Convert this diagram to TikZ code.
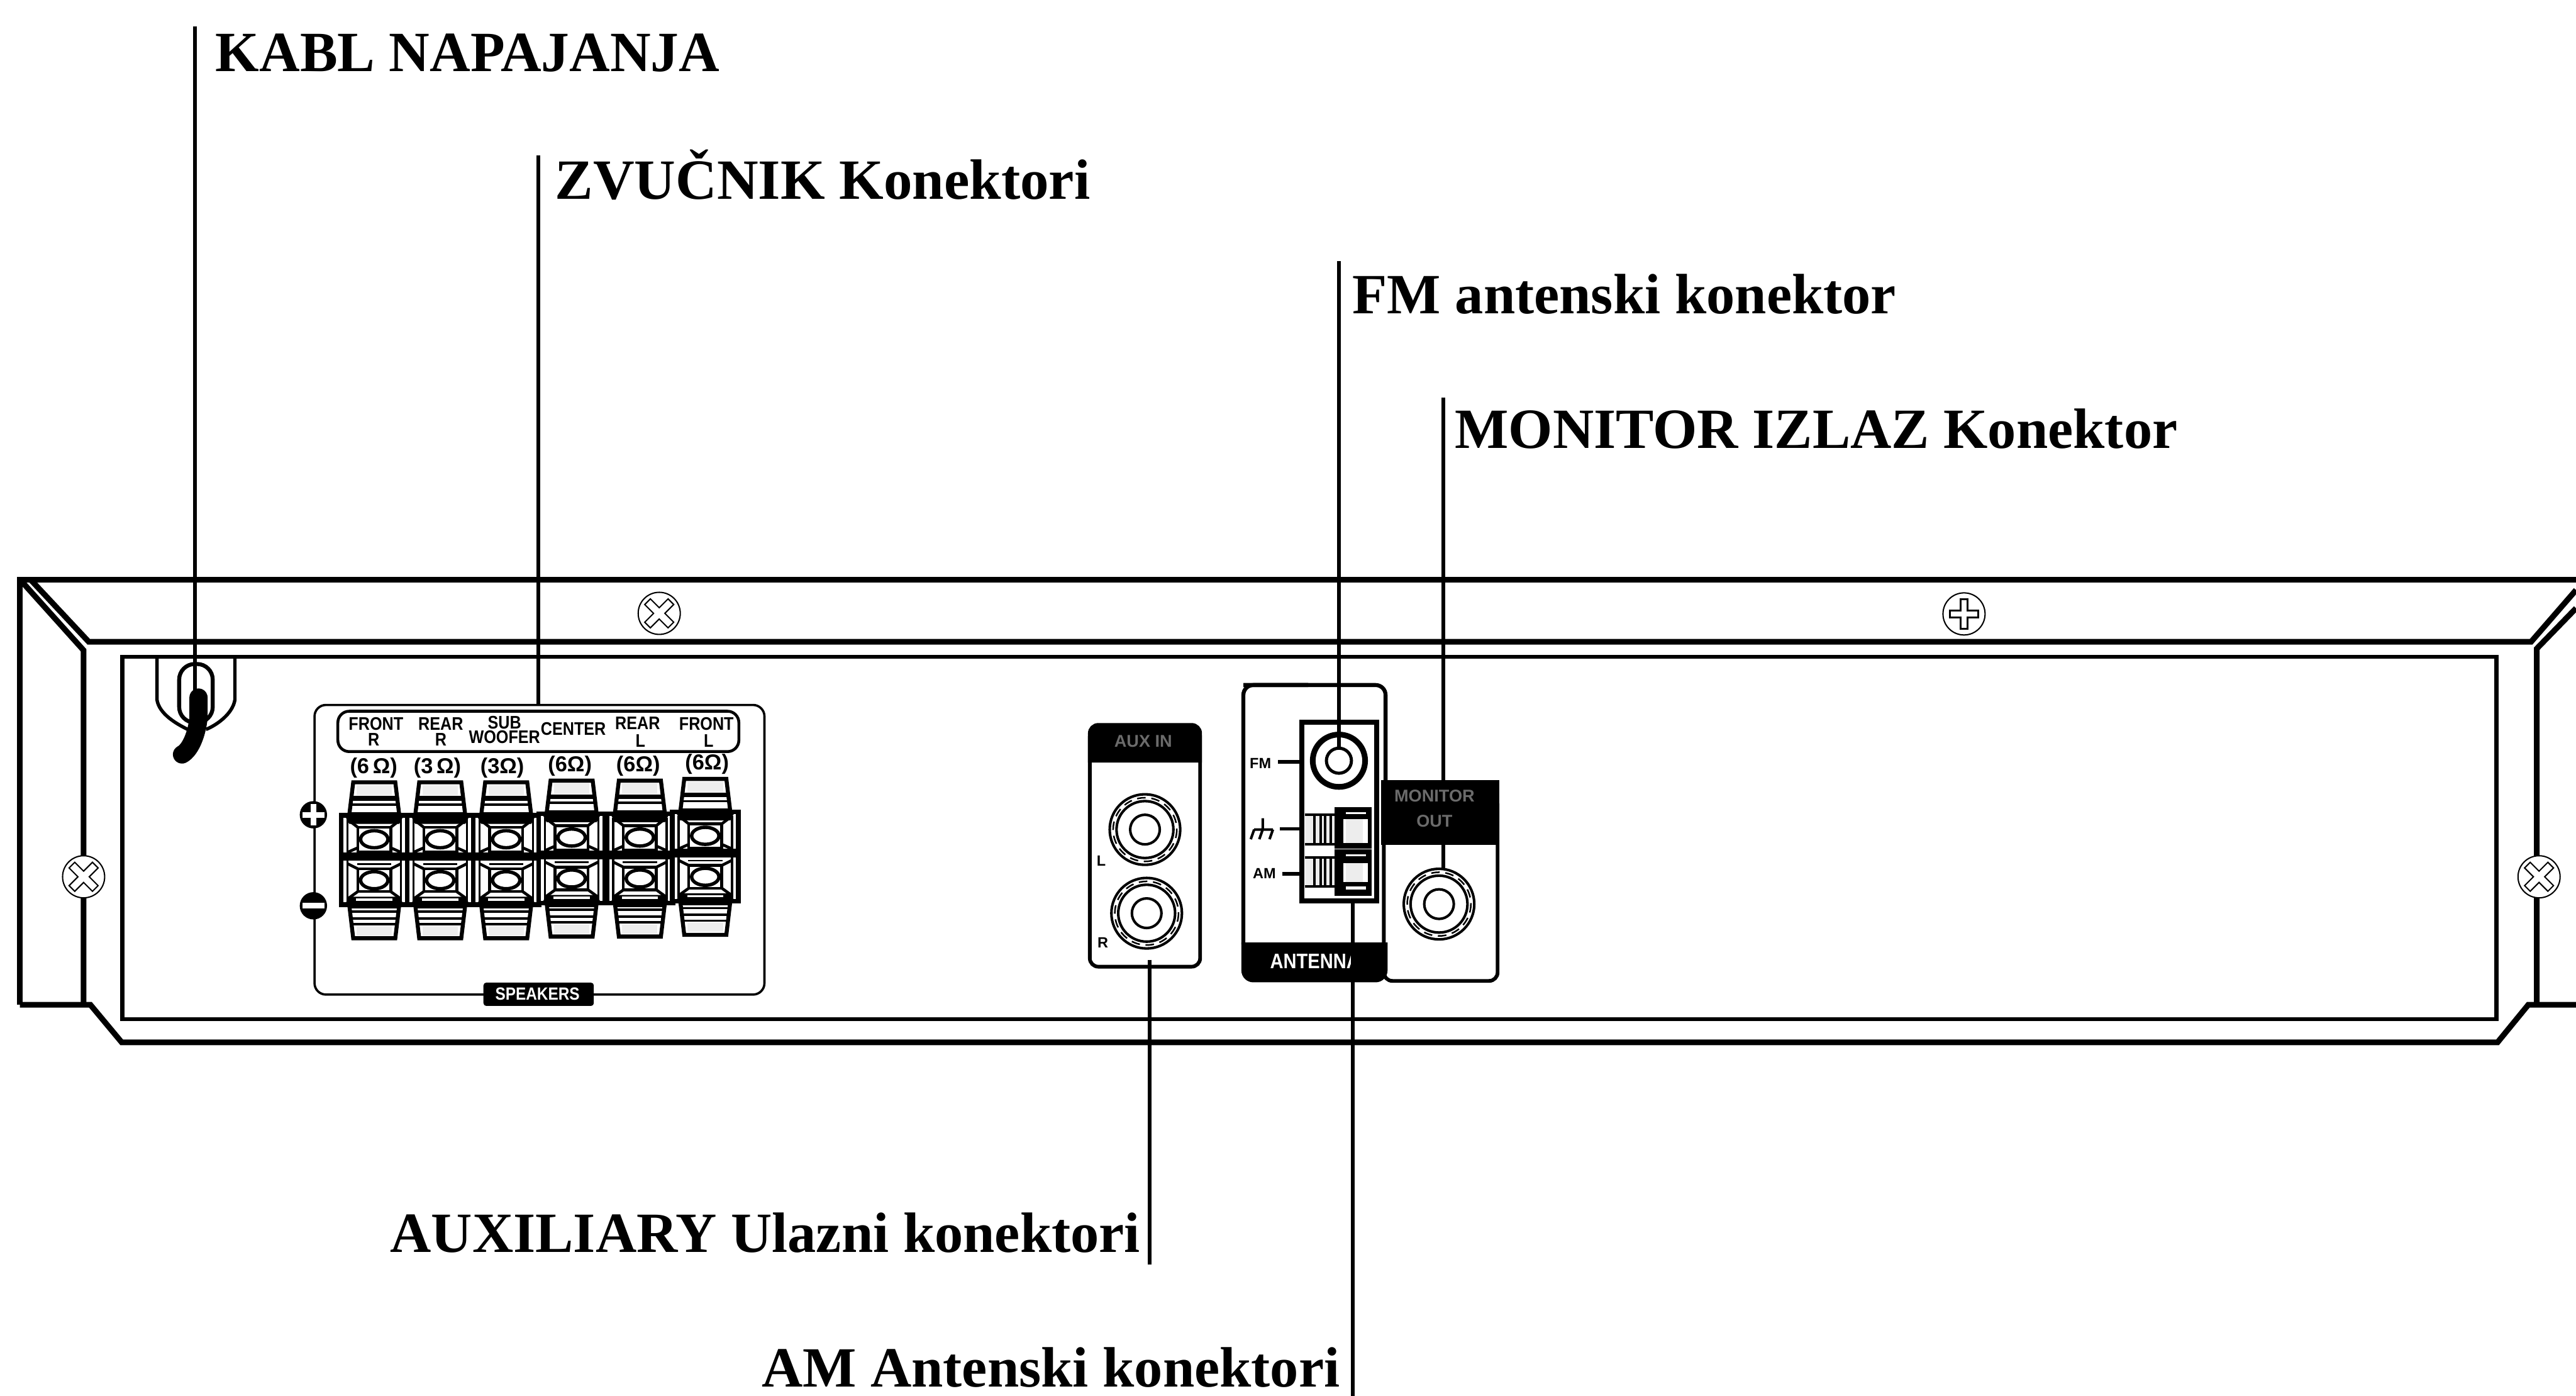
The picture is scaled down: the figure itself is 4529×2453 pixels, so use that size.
\documentclass[tikz,border=0pt]{standalone}
\usepackage{fontspec}
\usepackage{graphicx}
\setmainfont{Liberation Serif}
\newfontfamily\lblsans{Liberation Sans}
\definecolor{capg}{gray}{0.93}
\definecolor{blurg}{gray}{0.42}
\newcommand{\sq}[1]{\scalebox{.87}[1]{#1}}
\tikzset{
  heavy/.style={line width=2pt,line join=miter},
  med/.style={line width=1.4pt},
  leader/.style={line width=1.35pt},
  thinl/.style={line width=.8pt},
  hair/.style={line width=.45pt},
  callout/.style={font=\bfseries\fontsize{20}{24}\selectfont,anchor=base west,inner sep=0pt},
  panellbl/.style={font=\lblsans\bfseries\fontsize{6.4}{7}\selectfont,inner sep=0pt,align=center},
  ohm/.style={font=\lblsans\bfseries\fontsize{7.6}{8}\selectfont,inner sep=0pt},
  tiny/.style={font=\lblsans\bfseries\fontsize{5.2}{6}\selectfont,inner sep=0pt},
  blurlbl/.style={font=\lblsans\bfseries\fontsize{6}{7}\selectfont,inner sep=0pt,text=blurg,align=center},
  whitelbl/.style={font=\lblsans\bfseries\fontsize{7.4}{8}\selectfont,inner sep=0pt,text=white},
}
\newcommand{\termcol}[2]{%
 \begin{scope}[shift={(#1,#2)}]
  % top cap
  \draw[line width=1.4pt,fill=white] (-37,1375)--(37,1375)--(44,1433)--(-44,1433)--cycle;
  \fill[capg] (-31,1380) rectangle (31,1398);
  \fill (-39,1399) rectangle (39,1407);
  \fill (-41,1412) rectangle (41,1416);
  \fill (-43,1427) rectangle (43,1433);
  % body
  \draw[line width=1.6pt,fill=white] (-58,1433) rectangle (58,1590);
  \draw[thinl] (-47,1440)--(-47,1584) (47,1440)--(47,1584);
  \draw[line width=1pt] (-47,1440)--(-29,1454) (47,1440)--(29,1454)
     (-47,1498)--(-29,1490) (47,1498)--(29,1490)
     (-47,1518)--(-29,1527) (47,1518)--(29,1527)
     (-47,1580)--(-29,1567) (47,1580)--(29,1567);
  \fill (-52,1433)--(52,1433)--(44,1448)--(-44,1448)--cycle;
  \draw[line width=1pt] (-29,1454) rectangle (29,1497);
  \draw[line width=1pt] (-29,1527) rectangle (29,1567);
  \draw[line width=1.2pt] (0,1475) ellipse [x radius=24,y radius=15];
  \draw[line width=1.2pt] (0,1547) ellipse [x radius=24,y radius=15];
  \fill (-58,1498)--(58,1498)--(58,1513)--(-58,1513)--cycle;
  \fill (-30,1517) rectangle (30,1520);
  \fill (-52,1590)--(52,1590)--(44,1576)--(-44,1576)--cycle;
  \fill[white] (-32,1579) rectangle (32,1583);
  % bottom cap
  \draw[line width=1.4pt,fill=white] (-44,1590)--(44,1590)--(37,1649)--(-37,1649)--cycle;
  \fill (-43,1590) rectangle (43,1597);
  \fill (-41,1600) rectangle (41,1604);
  \fill (-39,1612) rectangle (39,1616);
  \fill (-38,1622) rectangle (38,1626);
  \fill[capg] (-31,1628) rectangle (31,1644);
 \end{scope}}
\newcommand{\rcajack}[2]{%
  \draw[line width=.9pt] (#1,#2) circle [radius=62];
  \draw[line width=.55pt,densely dashed] (#1,#2) circle [radius=56];
  \draw[line width=.9pt] (#1,#2) circle [radius=50];
  \draw[line width=.9pt] (#1,#2) circle [radius=26];}
\newcommand{\screwx}[2]{%
  \draw[hair,fill=white] (#1,#2) circle [radius=37];
  \draw[hair,rotate around={45:(#1,#2)}]
   ([shift={(-7,-29)}]#1,#2) -- ([shift={(7,-29)}]#1,#2) -- ([shift={(7,-7)}]#1,#2) -- ([shift={(29,-7)}]#1,#2) -- ([shift={(29,7)}]#1,#2) -- ([shift={(7,7)}]#1,#2) -- ([shift={(7,29)}]#1,#2) -- ([shift={(-7,29)}]#1,#2) -- ([shift={(-7,7)}]#1,#2) -- ([shift={(-29,7)}]#1,#2) -- ([shift={(-29,-7)}]#1,#2) -- ([shift={(-7,-7)}]#1,#2) -- cycle;}
\newcommand{\screwp}[2]{%
  \draw[hair,fill=white] (#1,#2) circle [radius=37];
  \draw[line width=.6pt]
   ([shift={(-6,-26)}]#1,#2) -- ([shift={(6,-26)}]#1,#2) -- ([shift={(6,-6)}]#1,#2) -- ([shift={(25,-6)}]#1,#2) -- ([shift={(25,6)}]#1,#2) -- ([shift={(6,6)}]#1,#2) -- ([shift={(6,26)}]#1,#2) -- ([shift={(-6,26)}]#1,#2) -- ([shift={(-6,6)}]#1,#2) -- ([shift={(-25,6)}]#1,#2) -- ([shift={(-25,-6)}]#1,#2) -- ([shift={(-6,-6)}]#1,#2) -- cycle;}
\begin{document}
\begin{tikzpicture}[x=0.2pt,y=-0.2pt]
\useasboundingbox (0,0) rectangle (4529,2453);
\fill[white] (0,0) rectangle (4529,2453);
% --- cabinet
\draw[heavy] (35,1766)--(35,1019)--(4529,1019);
\draw[heavy] (54,1019)--(156,1128)--(4450,1128)--(4529,1037);
\draw[heavy] (40,1024)--(147,1143)--(147,1766);
\draw[heavy] (35,1766)--(159,1766)--(214,1832)--(4391,1832)--(4445,1766)--(4529,1766);
\draw[heavy] (4529,1069)--(4460,1140)--(4460,1766);
\draw[med] (215,1154) rectangle (4389,1791);
% --- cord guide
\draw[line width=1.2pt] (276,1154)--(276,1230) .. controls (280,1255) and (310,1272) .. (330,1282);
\draw[line width=1.2pt] (413,1154)--(413,1230) .. controls (409,1255) and (380,1275) .. (362,1282);
\draw[line width=1.4pt,rounded corners=5.5pt] (315,1167) rectangle (374,1270);
% --- speaker panel
\draw[thinl,rounded corners=4pt] (553,1239) rectangle (1344,1748);
\draw[line width=1pt,rounded corners=4pt] (594,1250) rectangle (1299,1321);
\node[panellbl] (fr1) at (661,1272) {\sq{FRONT}};
\node[panellbl] (fr2) at (657,1300) {\sq{R}};
\node[panellbl] (rr1) at (775,1272) {\sq{REAR}};
\node[panellbl] (rr2) at (775,1300) {\sq{R}};
\node[panellbl] (sw1) at (887,1270) {\sq{SUB}};
\node[panellbl] (sw2) at (887,1295) {\sq{WOOFER}};
\node[panellbl] (cn1) at (1008,1281) {\sq{CENTER}};
\node[panellbl] (rl1) at (1121,1271) {\sq{REAR}};
\node[panellbl] (rl2) at (1126,1302) {\sq{L}};
\node[panellbl] (fl1) at (1242,1272) {\sq{FRONT}};
\node[panellbl] (fl2) at (1246,1302) {\sq{L}};
\node[ohm] (o1) at (657,1350) {(6\,Ω)};
\node[ohm] (o2) at (769,1350) {(3\,Ω)};
\node[ohm] (o3) at (883,1350) {(3Ω)};
\node[ohm] (o4) at (1002,1346) {(6Ω)};
\node[ohm] (o5) at (1122,1346) {(6Ω)};
\node[ohm] (o6) at (1243,1343) {(6Ω)};
\termcol{658}{0}
\termcol{774}{0}
\termcol{890}{0}
\termcol{1005}{-3}
\termcol{1125}{-3}
\termcol{1240}{-6}
% polarity
\fill (551,1432) circle [radius=24];
\fill[white] (546,1413) rectangle (556,1451);
\fill[white] (532,1427) rectangle (570,1437);
\fill (551,1592) circle [radius=24];
\fill[white] (532,1587) rectangle (570,1597);
% speakers tab
\fill[rounded corners=1pt] (850,1727) rectangle (1044,1768);
\node[font=\lblsans\bfseries\fontsize{6.2}{7}\selectfont,inner sep=0pt,text=white] (spk) at (945,1747) {\sq{SPEAKERS}};
% --- AUX box
\draw[line width=1.3pt,rounded corners=3pt] (1916,1280) rectangle (2110,1699);
\path[fill,draw,line width=1.3pt] (1916,1337) [rounded corners=3pt] -- (1916,1274) -- (2110,1274) [sharp corners] -- (2110,1337) -- cycle;
\node[blurlbl] (auxh) at (2010,1303) {AUX IN};
\rcajack{2013}{1458}
\rcajack{2016}{1605}
\node[tiny] (auxl) at (1936,1513) {L};
\node[tiny] (auxr) at (1939,1657) {R};
% --- monitor box
\draw[line width=1.3pt,rounded corners=3pt] (2433,1400) rectangle (2633,1724);
\path[fill,draw,line width=1.3pt] (2431,1482) -- (2431,1374) -- (2633,1374) -- (2633,1482) -- cycle;
\node[blurlbl] (mon) at (2522,1421) {MONITOR\\[2pt]OUT};
\rcajack{2530}{1589}
% --- antenna box
\draw[line width=1.4pt,rounded corners=3.5pt] (2186,1204) -- (2436,1204) -- (2436,1374);
\draw[line width=1.4pt,rounded corners=3.5pt] (2186,1660) -- (2186,1204) -- (2300,1204);
\path[fill,draw,line width=1.4pt] (2186,1660) [rounded corners=3.5pt] -- (2186,1723) -- (2436,1723) [sharp corners] -- (2436,1660) -- cycle;
\node[whitelbl,anchor=west] (ant) at (2232,1689) {\sq{ANTENNA}};
\fill (2378,1665) rectangle (2436,1720);
\draw[line width=1.8pt,fill=white] (2289,1269) rectangle (2420,1583);
\draw[line width=2pt] (2354,1337) circle [radius=46];
\draw[line width=1.1pt] (2354,1337) circle [radius=22];
\node[tiny] (fmt) at (2216,1342) {FM};
\node[tiny] (amt) at (2223,1535) {AM};
\draw[line width=.9pt] (2220,1438)--(2220,1458) (2205,1458)--(2238,1458)
   (2205,1458)--(2199,1475) (2220,1458)--(2214,1475) (2238,1458)--(2232,1475);
\coordinate (fmL) at (2247,1339); \coordinate (fmR) at (2289,1339);
\coordinate (gnL) at (2250,1457); \coordinate (gnR) at (2289,1457);
\coordinate (amL) at (2254,1536); \coordinate (amR) at (2289,1536);
\draw[line width=1.2pt] (fmL)--(fmR) (gnL)--(gnR) (amL)--(amR);
% antenna clamps
\foreach \ta/\tb/\ra/\rb/\ia/\ib in {1432/1484/1422/1488/1440/1482,1507/1558/1496/1571/1517/1550}{
  \fill[capg] (2294,\ta) rectangle (2346,\tb);
  \draw[line width=.9pt] (2294,\ta)--(2346,\ta) (2294,\tb)--(2346,\tb);
  \draw[line width=.9pt] (2311,\ta)--(2311,\tb) (2322,\ta)--(2322,\tb) (2330,\ta)--(2330,\tb) (2340,\ta)--(2340,\tb);
  \draw[line width=1.4pt,fill=white] (2350,\ra) rectangle (2408,\rb);
  \fill (2350,\ra) rectangle (2362,\rb);
  \fill (2350,\ra) rectangle (2408,\ia);
  \fill (2350,\ib) rectangle (2408,\rb);
  \fill[white] (2366,\ra+5) rectangle (2402,\ra+9);
  \fill[capg] (2366,\ia) rectangle (2396,\ib);
}
\fill[white] (2366,1558) rectangle (2402,1563);
% --- power cord
\draw[line cap=round,line width=6.4pt] (349,1226)--(349,1262) .. controls (346,1290) and (335,1318) .. (320,1326);
% --- leader lines
\coordinate (kA) at (343,46);   \coordinate (kB) at (343,1226);
\coordinate (zA) at (946,273);  \coordinate (zB) at (946,1239);
\coordinate (fA) at (2354,459); \coordinate (fB) at (2354,1316);
\coordinate (mA) at (2538,699); \coordinate (mB) at (2538,1374);
\coordinate (mC) at (2538,1482);\coordinate (mD) at (2538,1527);
\coordinate (uA) at (2021,1687);\coordinate (uB) at (2021,2222);
\coordinate (aA) at (2378,1585);\coordinate (aB) at (2378,2453);
\draw[leader] (kA)--(kB);
\draw[leader] (zA)--(zB);
\draw[leader] (fA)--(fB);
\draw[leader] (mA)--(mB);
\draw[leader] (mC)--(mD);
\draw[leader] (uA)--(uB);
\draw[leader] (aA)--(aB);
% --- screws
\screwx{1159}{1078}
\screwp{3453}{1079}
\screwx{147}{1541}
\screwx{4464}{1541}
% --- callouts
\node[callout] (t1) at (378,125) {\scalebox{.99}[1]{KABL NAPAJANJA}};
\node[callout] (t2) at (975,350) {\scalebox{1.005}[1]{ZVUČNIK Konektori}};
\node[callout] (t3) at (2377,551) {FM antenski konektor};
\node[callout] (t4) at (2557,788) {MONITOR IZLAZ Konektor};
\node[callout] (t5) at (685,2201) {AUXILIARY Ulazni konektori};
\node[callout] (t6) at (1338,2437) {AM Antenski konektori};
\end{tikzpicture}
\end{document}
